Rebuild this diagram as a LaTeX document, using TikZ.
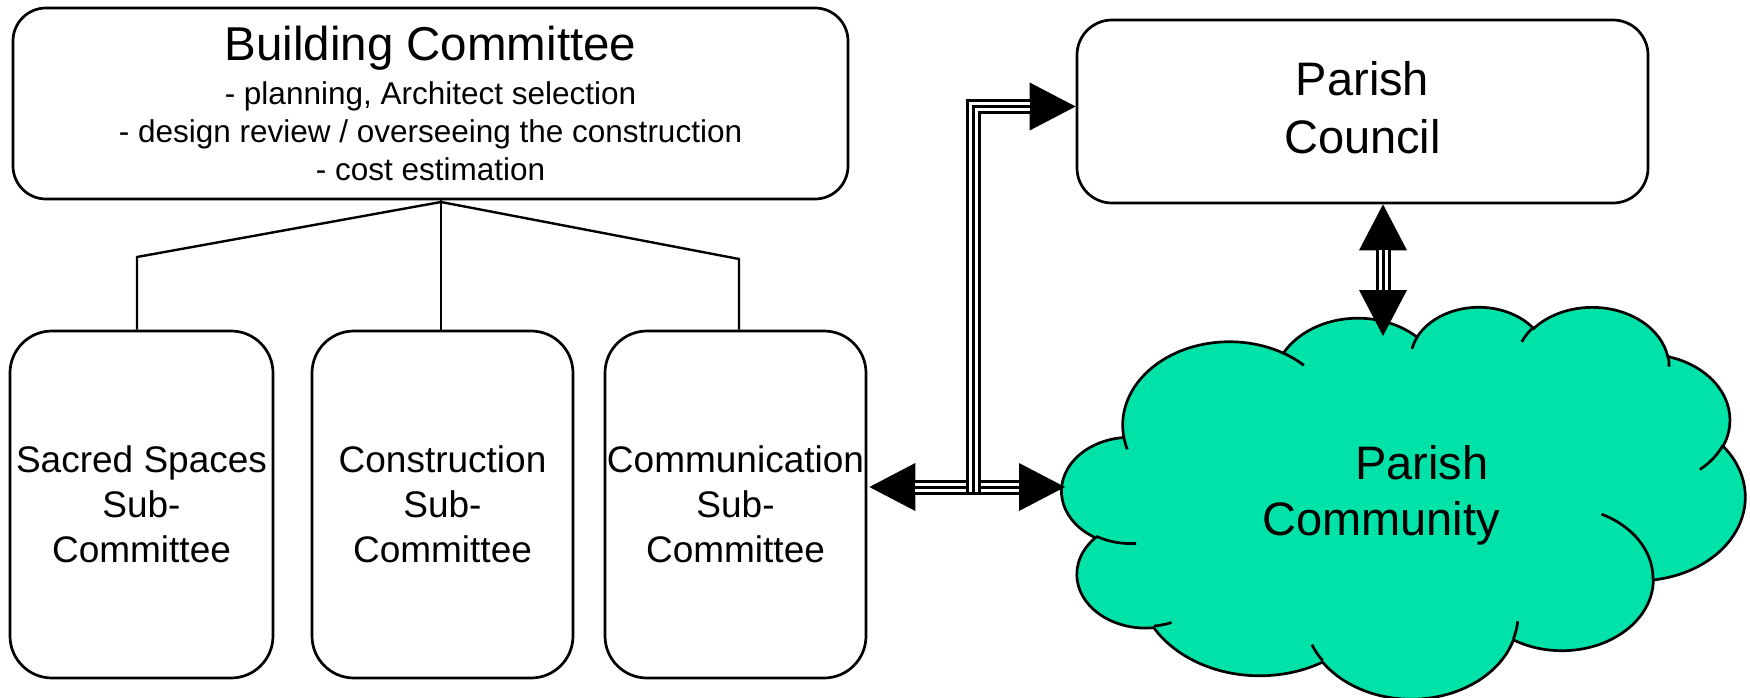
\documentclass[tikz,border=0pt]{standalone}
\usepackage{fontspec}
\setmainfont{Liberation Sans}
\usetikzlibrary{arrows.meta,calc}
\definecolor{cloudgreen}{RGB}{0,226,168}

% converts an OOXML arcTo (visual angles) into parametric start/end angles
\newcommand\cldang[5]{%
  \pgfmathsetmacro\cldtmpa{atan2((#2)*sin(#4),(#3)*cos(#4))}%
  \pgfmathsetmacro\cldtmpb{atan2((#2)*sin(#4+#5),(#3)*cos(#4+#5))}%
  \pgfmathsetmacro\cldtmpd{\cldtmpb-\cldtmpa}%
  \pgfmathsetmacro\cldtmpd{\cldtmpd+((#5)>0)*(\cldtmpd<0)*360-((#5)<0)*(\cldtmpd>0)*360}%
  \pgfmathsetmacro\cldtmpe{\cldtmpa+\cldtmpd}%
  \expandafter\xdef\csname cld#1s\endcsname{\cldtmpa}%
  \expandafter\xdef\csname cld#1e\endcsname{\cldtmpe}%
}

\tikzset{
  box/.style={draw=black, line width=2.7pt, rounded corners=#1, align=center, inner sep=0pt, fill=white},
  treeline/.style={draw=black, line width=2.4pt, line join=miter},
  trip/.style 2 args={line width=15pt, draw=black, line join=miter,
    postaction={draw=white, line width=9pt, arrows=-, shorten <=#1, shorten >=#2},
    postaction={draw=black, line width=3pt, arrows=-, shorten <=#1, shorten >=#2}},
  >={Triangle[length=46pt,width=48pt,line width=0pt]},
  cloudline/.style={draw=black, line width=2.7pt},
}

\begin{document}
\begin{tikzpicture}[x=1pt,y=-1pt]
\useasboundingbox (0,0) rectangle (1750,698);

% ---------- boxes ----------
\node[box=33pt, minimum width=835pt, minimum height=191pt,
      font=\fontsize{31.5}{38}\selectfont] (bc) at (430.5,103.5)
  {{\fontsize{47.5}{47.5}\selectfont Building Committee}\\[6pt]- planning, Architect selection\\- design review / overseeing the construction\\- cost estimation};

\node[box=35pt, minimum width=571pt, minimum height=183pt,
      font=\fontsize{47}{58}\selectfont] (pc) at (1362.5,111.5)
  {Parish\\Council\rule[-8pt]{0pt}{8pt}};

\node[box=42pt, minimum width=263pt, minimum height=347pt,
      font=\fontsize{37}{45}\selectfont] (s1) at (141.5,504.5)
  {Sacred Spaces\\Sub-\\Committee};
\node[box=42pt, minimum width=261pt, minimum height=347pt,
      font=\fontsize{37}{45}\selectfont] (s2) at (442.5,504.5)
  {Construction\\Sub-\\Committee};
\node[box=42pt, minimum width=261pt, minimum height=347pt,
      font=\fontsize{37}{45}\selectfont] (s3) at (735.5,504.5)
  {Communication\\Sub-\\Committee};

% ---------- tree ----------
\coordinate (j) at (441,202);
\coordinate (k1) at (137,257);
\coordinate (k3) at (739,259);
\draw[treeline] (j |- bc.south) -- (j);
\draw[treeline] (j) -- (k1) -- (k1 |- s1.north);
\draw[treeline] (j) -- (j |- s2.north);
\draw[treeline] (j) -- (k3) -- (k3 |- s3.north);

% ---------- cloud ----------
\cldang{A}{67.53}{91.90}{-190.4875}{123.7805}
\cldang{B}{53.33}{72.67}{-144.1024}{89.9452}
\cldang{C}{43.65}{59.45}{-145.8079}{99.7230}
\cldang{D}{48.57}{65.95}{-130.9861}{117.2417}
\cldang{E}{53.33}{72.73}{-78.7089}{109.0269}
\cldang{F}{67.75}{92.20}{-46.2673}{130.2690}
\cldang{G}{57.85}{78.67}{0.6250}{114.0333}
\cldang{H}{67.52}{92.15}{22.4516}{115.1726}
\cldang{I}{77.20}{105.43}{66.2426}{75.7110}
\cldang{J}{43.60}{59.18}{-274.9421}{146.7356}
\cldang{K}{43.45}{59.45}{-246.8285}{152.5189}
\cldang{a}{43.45}{59.45}{86.7420}{26.4295}
\cldang{b}{43.60}{59.18}{73.6105}{11.4475}
\cldang{c}{67.52}{92.15}{137.6242}{14.0811}
\cldang{d}{67.52}{92.15}{6.4533}{15.9984}
\cldang{e}{57.85}{78.67}{-70.2924}{70.9174}
\cldang{f}{53.33}{72.73}{30.3180}{27.7515}
\cldang{g}{48.57}{65.95}{-13.7443}{14.8589}
\cldang{h}{48.57}{65.95}{-149.1815}{18.1954}
\cldang{i}{43.65}{59.45}{-163.4943}{17.6864}
\cldang{j}{67.53}{91.90}{-66.7070}{12.3194}
\cldang{k}{67.53}{91.90}{157.6544}{11.8582}

\begin{scope}[shift={(1062,306)}, x=1.581pt, y=-0.907pt]
  \path[cloudline, fill=cloudgreen] (39.00,143.70)
    arc[start angle=\cldAs, end angle=\cldAe, x radius=67.53, y radius=91.90]
    arc[start angle=\cldBs, end angle=\cldBe, x radius=53.33, y radius=72.67]
    arc[start angle=\cldCs, end angle=\cldCe, x radius=43.65, y radius=59.45]
    arc[start angle=\cldDs, end angle=\cldDe, x radius=48.57, y radius=65.95]
    arc[start angle=\cldEs, end angle=\cldEe, x radius=53.33, y radius=72.73]
    arc[start angle=\cldFs, end angle=\cldFe, x radius=67.75, y radius=92.20]
    arc[start angle=\cldGs, end angle=\cldGe, x radius=57.85, y radius=78.67]
    arc[start angle=\cldHs, end angle=\cldHe, x radius=67.52, y radius=92.15]
    arc[start angle=\cldIs, end angle=\cldIe, x radius=77.20, y radius=105.43]
    arc[start angle=\cldJs, end angle=\cldJe, x radius=43.60, y radius=59.18]
    arc[start angle=\cldKs, end angle=\cldKe, x radius=43.45, y radius=59.45]
    -- cycle;
  \path[cloudline]
    (46.93,261.77) arc[start angle=\cldas, end angle=\cldae, x radius=43.45, y radius=59.45]
    (69.28,348.99) arc[start angle=\cldbs, end angle=\cldbe, x radius=43.60, y radius=59.18]
    (164.78,390.90) arc[start angle=\cldcs, end angle=\cldce, x radius=67.52, y radius=92.15]
    (288.27,347.51) arc[start angle=\cldds, end angle=\cldde, x radius=67.52, y radius=92.15]
    (341.29,229.54) arc[start angle=\cldes, end angle=\cldee, x radius=57.85, y radius=78.67]
    (417.98,153.54) arc[start angle=\cldfs, end angle=\cldfe, x radius=53.33, y radius=72.73]
    (383.24,54.26) arc[start angle=\cldgs, end angle=\cldge, x radius=48.57, y radius=65.95]
    (290.78,39.52) arc[start angle=\cldhs, end angle=\cldhe, x radius=48.57, y radius=65.95]
    (221.41,47.20) arc[start angle=\cldis, end angle=\cldie, x radius=43.65, y radius=59.45]
    (140.00,51.92) arc[start angle=\cldjs, end angle=\cldje, x radius=67.53, y radius=91.90]
    (41.27,157.89) arc[start angle=\cldks, end angle=\cldke, x radius=67.53, y radius=91.90];
\end{scope}

\node[font=\fontsize{47}{56}\selectfont, align=center, inner sep=0pt] (pctext) at (1381,495.8)
  {\hspace*{82pt}Parish\\Community};

% ---------- connectors ----------
\coordinate (cloudW) at (1065,487);
\coordinate (cloudN) at (1383,336);
\coordinate (vj) at (973,492);
\coordinate (hL) at ([yshift=17.5pt,xshift=2pt]s3.east);
\coordinate (pcW) at ([yshift=5pt]pc.west);
\coordinate (pcS) at ([xshift=20.5pt]pc.south);

\draw[trip={46pt}{46pt}, <->] (hL) -- (cloudW);
\draw[trip={0pt}{46pt}, ->] (vj) |- (pcW);
\draw[trip={46pt}{46pt}, <->] (pcS) -- (cloudN);

\end{tikzpicture}
\end{document}
